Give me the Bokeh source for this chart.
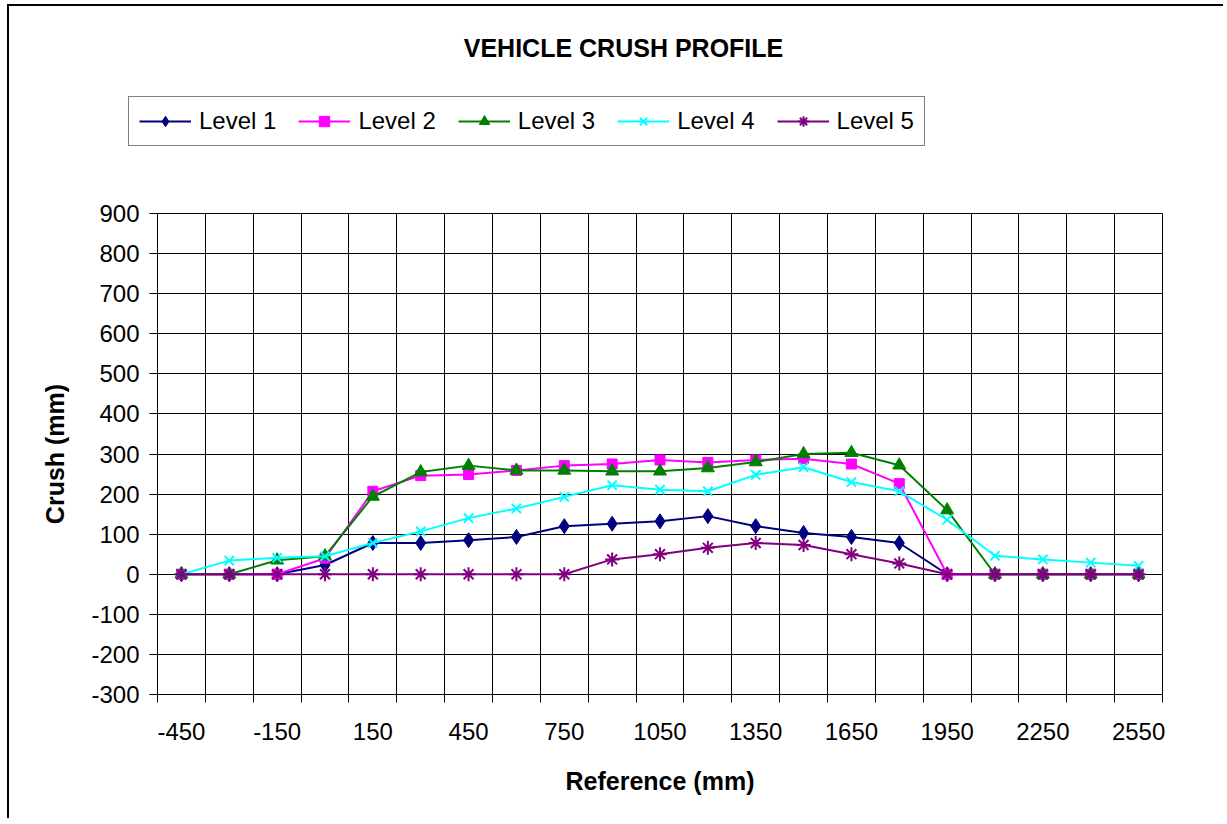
from bokeh.plotting import figure
from bokeh.models import Range1d, FixedTicker, Label, Legend, LegendItem
from bokeh.embed import file_html
from bokeh.resources import INLINE

# ---------------- data ----------------
reference_mm = [-450, -300, -150, 0, 150, 300, 450, 600, 750, 900, 1050,
                1200, 1350, 1500, 1650, 1800, 1950, 2100, 2250, 2400, 2550]
x_tick_labels = [-450, -150, 150, 450, 750, 1050, 1350, 1650, 1950, 2250, 2550]
y_ticks = [-300, -200, -100, 0, 100, 200, 300, 400, 500, 600, 700, 800, 900]

level_1 = [0, 0, 0, 23, 78, 78, 85, 93, 120, 126, 132, 145, 120, 103, 93, 78, 0, 0, 0, 0, 0]
level_2 = [0, 0, 0, 40, 207, 246, 249, 259, 271, 275, 285, 279, 285, 288, 275, 226, 0, 0, 0, 0, 0]
level_3 = [0, 0, 35, 45, 194, 255, 271, 259, 259, 257, 257, 265, 280, 300, 303, 272, 160, 0, 0, 0, 0]
level_4 = [0, 34, 41, 45, 78, 107, 140, 164, 193, 222, 211, 207, 248, 267, 230, 207, 136, 46, 37, 29, 21]
level_5 = [0, 0, 0, 0, 0, 0, 0, 0, 0, 37, 50, 66, 78, 73, 50, 27, 0, 0, 0, 0, 0]

series_names = ["Level 1", "Level 2", "Level 3", "Level 4", "Level 5"]
series_values = [level_1, level_2, level_3, level_4, level_5]
chart_title = "VEHICLE CRUSH PROFILE"

# ---------------- styles ----------------
FONT = "Liberation Sans"
colors = ["#000080", "#FF00FF", "#008000", "#00FFFF", "#800080"]
markers = ["diamond", "square", "triangle", "x", "asterisk"]
sizes = [15, 10, 13, 13, 14]

W = 1216
TOP_H = 170
BOT_H = 644

step = reference_mm[1] - reference_mm[0]
x_lo = reference_mm[0] - step / 2
x_hi = reference_mm[-1] + step / 2
boundaries = [x_lo + step * k for k in range(len(reference_mm) + 1)]


def add_series(fig):
    rs = []
    for name, vals, c, m, s in zip(series_names, series_values, colors, markers, sizes):
        r1 = fig.line(reference_mm, vals, line_color=c, line_width=2)
        if m in ("x", "asterisk"):
            r2 = fig.scatter(reference_mm, vals, marker=m, size=s, line_color=c, line_width=2)
        else:
            r2 = fig.scatter(reference_mm, vals, marker=m, size=s, fill_color=c, line_color=c)
        rs.append((name, r1, r2))
    return rs


# ---------------- top: title + legend (series kept out of view) ----------------
top = figure(width=W, height=TOP_H, output_backend="svg", toolbar_location=None,
             x_range=Range1d(10000, 10001), y_range=Range1d(10000, 10001),
             min_border=0, x_axis_type=None, y_axis_type=None,
             styles={"margin-left": "7px", "margin-top": "4px",
                     "border-left": "2px solid black",
                     "border-top": "2px solid black"})
top.title.visible = False
top.grid.visible = False
top.outline_line_color = None
top.background_fill_color = "white"
top.border_fill_color = "white"

legend_src = add_series(top)
items = [LegendItem(label=n, renderers=[a, b]) for n, a, b in legend_src]
legend = Legend(items=items, orientation="horizontal", location=(119, 30),
                label_text_font=FONT, label_text_font_size="24px",
                label_text_color="black", glyph_width=52, glyph_height=26,
                label_standoff=8, spacing=22, padding=10, margin=0,
                border_line_color="black", border_line_width=1,
                background_fill_color="white", background_fill_alpha=1.0)
top.add_layout(legend, "center")

title = Label(x=614, y=129, x_units="screen", y_units="screen",
              text=chart_title, text_font=FONT,
              text_font_style="bold", text_font_size="25px",
              text_align="center", text_baseline="middle", text_color="black")
top.add_layout(title)

# ---------------- bottom: chart ----------------
p = figure(width=W, height=BOT_H, output_backend="svg", toolbar_location=None,
           x_range=Range1d(x_lo, x_hi), y_range=Range1d(y_ticks[0], y_ticks[-1]),
           min_border_left=148, min_border_top=39, min_border_right=63,
           min_border_bottom=124,
           styles={"margin-left": "7px", "border-left": "2px solid black"})
p.title.visible = False
p.background_fill_color = "white"
p.border_fill_color = "white"
p.outline_line_color = "black"
p.outline_line_width = 1

p.xgrid.ticker = FixedTicker(ticks=boundaries)
p.ygrid.ticker = FixedTicker(ticks=y_ticks)
for g in (p.xgrid, p.ygrid):
    g.grid_line_color = "black"
    g.grid_line_width = 1
    g.grid_line_alpha = 1.0

xa = p.xaxis[0]
xa.ticker = FixedTicker(ticks=x_tick_labels, minor_ticks=boundaries)
xa.major_label_overrides = {v: str(v) for v in x_tick_labels}
xa.major_tick_out = 0
xa.major_tick_in = 0
xa.minor_tick_out = 8
xa.minor_tick_in = 0
xa.minor_tick_line_color = "black"
xa.axis_line_color = "black"
xa.major_label_standoff = 20
xa.major_label_text_font = FONT
xa.major_label_text_font_size = "24px"
xa.major_label_text_color = "black"
xa.axis_label = "Reference (mm)"
xa.axis_label_text_font = FONT
xa.axis_label_text_font_style = "bold"
xa.axis_label_text_font_size = "25px"
xa.axis_label_text_color = "black"
xa.axis_label_standoff = 24

ya = p.yaxis[0]
ya.ticker = FixedTicker(ticks=y_ticks)
ya.major_label_overrides = {v: str(v) for v in y_ticks}
ya.major_tick_out = 8
ya.major_tick_in = 0
ya.major_tick_line_color = "black"
ya.minor_tick_line_color = None
ya.axis_line_color = "black"
ya.major_label_standoff = 10
ya.major_label_text_font = FONT
ya.major_label_text_font_size = "24px"
ya.major_label_text_color = "black"
ya.axis_label = "Crush (mm)"
ya.axis_label_text_font = FONT
ya.axis_label_text_font_style = "bold"
ya.axis_label_text_font_size = "25px"
ya.axis_label_text_color = "black"
ya.axis_label_standoff = 19

add_series(p)

open("out.html", "w").write(file_html([top, p], INLINE))
